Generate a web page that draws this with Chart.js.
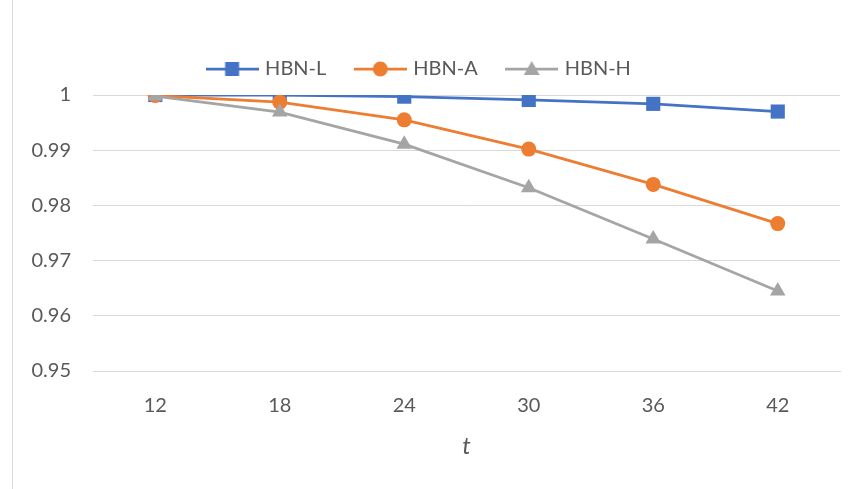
<!DOCTYPE html>
<html>
<head>
<meta charset="utf-8">
<script src="https://cdn.jsdelivr.net/npm/chart.js@4/dist/chart.umd.min.js"></script>
<style>
  html, body { margin: 0; padding: 0; background: #fff; }
  #wrap { position: relative; width: 857px; height: 489px; }
  #edge { position: absolute; left: 12px; top: 0; width: 1px; height: 489px; background: #d9d9d9; }
  canvas { position: absolute; left: 0; top: 0; }
</style>
</head>
<body>
<div id="wrap"><div id="edge"></div><canvas id="myChart" width="857" height="489"></canvas></div>
<script>
const labels = ['12', '18', '24', '30', '36', '42'];
const hbnL = [1.0, 0.99998, 0.9997, 0.9991, 0.9984, 0.9970];
const hbnA = [0.9999, 0.9987, 0.9955, 0.9902, 0.9838, 0.9767];
const hbnH = [0.9998, 0.9969, 0.9911, 0.9832, 0.9739, 0.9645];
const yTicks = [0.95, 0.96, 0.97, 0.98, 0.99, 1];

const fontFamily = 'Lato, "Open Sans", sans-serif';
const textColor = '#595959';

// legend icon: a short line with the marker on top
function legendIcon(color, style) {
    const c = document.createElement('canvas');
    c.width = 53; c.height = 18;
    const g = c.getContext('2d');
    g.strokeStyle = color;
    g.lineWidth = 2.75;
    g.beginPath(); g.moveTo(0, 9); g.lineTo(53, 9); g.stroke();
    g.fillStyle = color;
    if (style === 'rect') {
        g.fillRect(19.5, 2, 14, 14);
    } else if (style === 'circle') {
        g.beginPath(); g.arc(26.5, 9, 7.5, 0, Math.PI * 2); g.fill();
    } else {
        g.beginPath(); g.moveTo(26.5, 1); g.lineTo(34.5, 15); g.lineTo(18.5, 15); g.closePath(); g.fill();
    }
    return c;
}

const series = [
    { label: 'HBN-L', data: hbnL, color: '#4472C4', style: 'rect', r: 10 },
    { label: 'HBN-A', data: hbnA, color: '#ED7D31', style: 'circle', r: 7.5 },
    { label: 'HBN-H', data: hbnH, color: '#A5A5A5', style: 'triangle', r: 9 }
];

// fixed legend box height so the plot top lands where it should
const legendHeight = {
    id: 'legendHeight',
    beforeInit(chart) {
        const fit = chart.legend.fit;
        chart.legend.fit = function () {
            fit.call(this);
            this.height = 67;
        };
    }
};

const ctx = document.getElementById('myChart').getContext('2d');

const myChart = new Chart(ctx, {
    type: 'line',
    data: {
        labels: labels,
        datasets: series.map((s, i) => ({
            label: s.label,
            data: s.data,
            order: series.length - i, // later series drawn on top, like the original
            borderColor: s.color,
            backgroundColor: s.color,
            borderWidth: 2.75,
            pointStyle: s.style,
            pointRadius: s.r,
            pointBorderWidth: 0,
            pointBackgroundColor: s.color,
            tension: 0,
            fill: false
        }))
    },
    options: {
        responsive: false,
        animation: false,
        layout: { padding: { top: 28, right: 17, left: 0, bottom: 28 } },
        plugins: {
            legend: {
                position: 'top',
                labels: {
                    usePointStyle: true,
                    pointStyleWidth: 46,
                    boxHeight: 20,
                    padding: 31,
                    color: textColor,
                    font: { family: fontFamily, size: 20 },
                    generateLabels: chart => series.map((s, i) => ({
                        text: s.label,
                        pointStyle: legendIcon(s.color, s.style),
                        fillStyle: s.color,
                        strokeStyle: s.color,
                        lineWidth: 0,
                        fontColor: textColor,
                        datasetIndex: i
                    }))
                }
            },
            tooltip: { enabled: false }
        },
        scales: {
            x: {
                type: 'category',
                offset: true,
                grid: { display: false },
                border: { display: true, color: '#d9d9d9', width: 1 },
                ticks: { color: textColor, font: { family: fontFamily, size: 20 }, padding: 15 },
                title: {
                    display: true,
                    text: 't',
                    color: textColor,
                    font: { family: fontFamily, size: 24, style: 'italic' },
                    padding: { top: 0, bottom: 0 }
                },
                afterFit: axis => { axis.height = 90; }
            },
            y: {
                min: 0.95,
                max: 1,
                afterBuildTicks: axis => { axis.ticks = yTicks.map(v => ({ value: v })); },
                grid: { color: '#d9d9d9', lineWidth: 1, drawTicks: false },
                border: { display: false },
                ticks: {
                    color: textColor,
                    font: { family: fontFamily, size: 20 },
                    padding: 22,
                    callback: v => String(Math.round(v * 100) / 100)
                },
                afterFit: axis => { axis.width = 93; }
            }
        }
    },
    plugins: [legendHeight]
});
</script>
</body>
</html>
